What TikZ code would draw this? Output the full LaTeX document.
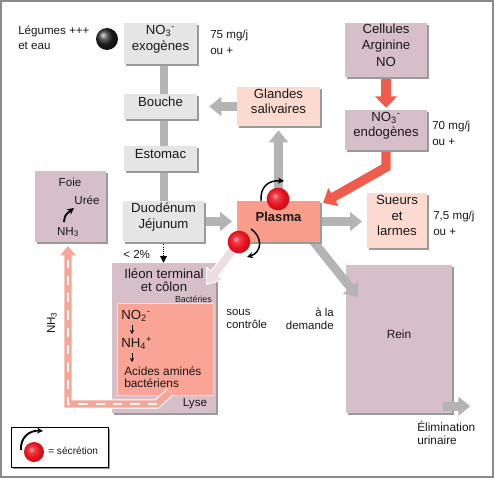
\documentclass[tikz,border=0pt]{standalone}
\usepackage{fontspec}
\setmainfont{Liberation Sans}
\usetikzlibrary{arrows.meta,fit,shadows,calc}
\definecolor{boxgrey}{HTML}{E5E5E5}
\definecolor{arrgrey}{HTML}{B4B4B4}
\definecolor{salmonbox}{HTML}{FDDACF}
\definecolor{mauvebox}{HTML}{D7BFCA}
\definecolor{plasmabox}{HTML}{F99C8C}
\definecolor{innerbox}{HTML}{F9A494}
\definecolor{redarrow}{HTML}{EF5B4C}
\definecolor{trackpink}{HTML}{F7A797}
\definecolor{palearrow}{HTML}{EDDCE1}
\definecolor{framegrey}{HTML}{8A8A8A}
\definecolor{shadowgrey}{HTML}{9A9A9A}
\definecolor{ballred}{HTML}{E8121C}
\pgfdeclareradialshading{redball}{\pgfqpoint{-7bp}{7bp}}{%
  color(0bp)=(ballred!35!white); color(7bp)=(ballred!80!white);
  color(18bp)=(ballred); color(30bp)=(ballred!80!black); color(50bp)=(ballred!65!black)}
\pgfdeclarelayer{bg}
\pgfdeclarelayer{mid}
\pgfsetlayers{bg,mid,main}
\newcommand\boxfnt{\fontsize{9.9}{12}\selectfont}
\newcommand\sidefnt{\fontsize{8.7}{11.8}\selectfont}
\newcommand\tinyfnt{\fontsize{6.6}{8}\selectfont}
\begin{document}
\begin{tikzpicture}[x=0.75pt,y=-0.75pt,
  mybox/.style={inner sep=0pt, align=center, font=\boxfnt, text=black!90,
     drop shadow={shadow xshift=1.5pt,shadow yshift=-1.5pt,opacity=1,fill=shadowgrey}},
  greystyle/.style={mybox,fill=boxgrey},
  salmonstyle/.style={mybox,fill=salmonbox},
  mauvestyle/.style={mybox,fill=mauvebox},
  sidelbl/.style={inner sep=0pt,font=\sidefnt,align=left,anchor=west,text=black!90},
  plainlbl/.style={inner sep=0pt,text=black!90},
  greyarr/.style={draw=arrgrey,line width=6.5pt,-{Triangle[width=14pt,length=9pt]}},
  redarr/.style={draw=redarrow,line width=7pt,line join=miter,-{Triangle[width=16pt,length=8.5pt]}},
  secr/.style={line width=1.1pt,-{Stealth[length=4.5pt,width=4.5pt]}},
  ballnode/.style={circle,inner sep=0pt,minimum size=17pt,shading=redball},
]
\useasboundingbox (0,0) rectangle (495,479);
\draw[framegrey,line width=0.9pt] (1,1) rectangle (493,477);

% ---------- background layer boxes
\begin{pgfonlayer}{bg}
\node[mauvestyle,fit={(346,265)(452,413)},font=\fontsize{8.9}{10}\selectfont] (rein) {Rein};
\node[mauvestyle,fit={(112,263)(216,413)}] (ileon) {};
\node[inner sep=0pt,fill=innerbox,draw=white!55!innerbox,line width=0.6pt,fit={(117,303)(213,395)}] (inner) {};
\end{pgfonlayer}

% ---------- main boxes
\node[greystyle,fit={(124,23)(197,64)}] (exo) {NO\textsubscript{3}\textsuperscript{-}\\exogènes};
\node[greystyle,fit={(124,94)(197,119)}] (bouche) {Bouche};
\node[greystyle,fit={(124,146)(197,171)}] (estomac) {Estomac};
\node[greystyle,fit={(123,201)(204,242)}] (duo) {Duodénum\\Jéjunum};
\node[salmonstyle,fit={(237,87)(320,126)},font=\fontsize{9.9}{11.3}\selectfont] (glandes) {Glandes\\salivaires};
\node[mauvestyle,fit={(345,23)(427,77)},font=\fontsize{9.9}{12.4}\selectfont] (cell) {Cellules\\Arginine\\NO};
\node[mauvestyle,fit={(345,110)(427,150)},font=\fontsize{9.9}{11.3}\selectfont] (endo) {NO\textsubscript{3}\textsuperscript{-}\\endogènes};
\node[mybox,fill=plasmabox,fit={(237,201)(320,242)},font=\bfseries\fontsize{9.8}{12}\selectfont] (plasma) {Plasma};
\node[salmonstyle,fit={(367,193)(427,248)},font=\fontsize{9.9}{11.6}\selectfont] (sueurs) {Sueurs\\et\\larmes};
\node[mauvestyle,fit={(35,171)(106,242)}] (foie) {};

% ---------- secretion balls
\node[ballnode] (ballT) at (278,199) {};
\node[ballnode] (ballL) at (239,242) {};
\coordinate (sTa) at (261,201); \coordinate (sTb) at (284,181);
\draw[secr] (sTa) .. controls (260,187) and (268,180) .. (sTb);
\coordinate (sLa) at (251,229); \coordinate (sLb) at (247,257);
\draw[secr] (sLa) .. controls (262,236) and (263,252) .. (sLb);

% ---------- side labels
\node[circle,inner sep=0pt,minimum size=16.5pt,ball color=black!85] (veg) at (107,39) {};
\node[sidelbl,font=\fontsize{8.7}{11.2}\selectfont] (legtxt) at (18,38) {Légumes +++\\et eau};
\node[sidelbl] (rateexo) at (210,42) {75 mg/j\\ou +};
\node[sidelbl] (rateendo) at (432,133) {70 mg/j\\ou +};
\node[sidelbl] (ratesueur) at (433,223) {7,5 mg/j\\ou +};
\node[sidelbl,font=\fontsize{8.6}{9.3}\selectfont] (sous) at (226,319) {sous\\contrôle};
\node[sidelbl,anchor=east,align=right,font=\fontsize{8.6}{9.3}\selectfont] (demande) at (334,319) {à la\\demande};
\node[sidelbl,font=\fontsize{8.9}{9.6}\selectfont] (elim) at (417,433) {Élimination\\urinaire};
\node[sidelbl] (pct) at (123,254) {< 2\%};

% ---------- ileon contents
\node[plainlbl,align=center,font=\fontsize{9.9}{9.6}\selectfont] (ileonlbl) at (164,280) {Iléon terminal\\et côlon};
\node[plainlbl,anchor=east,font=\tinyfnt] (bact) at (212,299) {Bactéries};
\node[plainlbl,anchor=west,font=\boxfnt] (no2) at (121,316) {NO\textsubscript{2}\textsuperscript{-}};
\node[plainlbl,anchor=west,font=\boxfnt] (nh4) at (121,343) {NH\textsubscript{4}\textsuperscript{+}};
\node[plainlbl,anchor=west,align=left,font=\fontsize{8.9}{8.8}\selectfont] (acides) at (124,377) {Acides aminés\\bactériens};
\node[plainlbl,font=\sidefnt] (lyse) at (195,404) {Lyse};
\coordinate (a1) at (132,325); \coordinate (a2) at (132,334);
\coordinate (b1) at (132,353); \coordinate (b2) at (132,362);
\draw[line width=0.7pt,-{Stealth[length=3pt,width=3pt]}] (a1) -- (a2);
\draw[line width=0.7pt,-{Stealth[length=3pt,width=3pt]}] (b1) -- (b2);

% ---------- foie contents
\node[plainlbl,font=\sidefnt] (foielbl) at (70,182) {Foie};
\node[plainlbl,font=\sidefnt] (uree) at (87,200) {Urée};
\node[plainlbl,font=\sidefnt] (nh3f) at (68,232) {NH\textsubscript{3}};
\coordinate (fa) at (64,222); \coordinate (fb) at (74,208);
\draw[line width=1.4pt,-{Stealth[length=5pt,width=5pt]}] (fa) .. controls (65,215) .. (fb);

% ---------- connectors (middle layer)
\coordinate (reinstart) at (297,221);
\coordinate (reintip) at (358,297);
\coordinate (plasmatip) at (323,203);
\coordinate (ileontip) at (206,285);
\coordinate (nhA) at (170,392);
\coordinate (nhB) at (157,404);
\coordinate (nhC) at (68,404);
\coordinate (nhtip) at (68,246);
\begin{pgfonlayer}{mid}
\draw[draw=arrgrey,line width=6pt] (duo.center) -- (duo.center |- exo.center);
\draw[greyarr,shorten >=9pt] (glandes.center) -- (glandes.center -| bouche.east);
\draw[greyarr,shorten >=3pt] (plasma.center) -- (plasma.center |- glandes.south);
\draw[greyarr,shorten >=3.5pt] (duo.center) -- (duo.center -| plasma.west);
\draw[greyarr,shorten >=3.5pt] (plasma.center) -- (plasma.center -| sueurs.west);
\draw[greyarr] (reinstart) -- (reintip);
\draw[greyarr] ($(rein.south east)+(-9,-7)$) -- ($(rein.south east)+(18,-7)$);
\draw[redarr,shorten >=1.5pt] (cell.center) -- (cell.center |- endo.north);
\draw[redarr,-{Triangle[width=15pt,length=9pt]}] (endo.center) -- ($(endo.south)+(0,17)$) -- (plasmatip);
% pale arrow plasma -> ileon
\draw[draw=white,line width=7.5pt,-{Triangle[width=16pt,length=11pt]}] (ballL.center) -- (ileontip);
\draw[draw=palearrow,line width=5.8pt,-{Triangle[width=13pt,length=9pt]},shorten >=1.3pt] (ballL.center) -- (ileontip);
% NH3 track
\draw[draw=white,line width=7pt,line join=miter] (nhA) -- (nhB) -- (nhC) -- ($(nhtip)+(0,8)$);
\draw[draw=trackpink,line width=5.3pt,line join=miter,-{Triangle[width=11pt,length=7pt]}] (nhA) -- (nhB) -- (nhC) -- (nhtip);
\draw[draw=white,line width=1.6pt,dash pattern=on 7pt off 6pt] (nhB) -- (nhC) -- ($(nhtip)+(0,14)$);
% dotted
\draw[line width=0.8pt,dash pattern=on 0.8pt off 0.8pt,-{Triangle[width=5pt,length=5pt]}] (duo.south) -- (duo.south |- ileon.north);
\end{pgfonlayer}

\node[plainlbl,font=\sidefnt,rotate=90] (nh3track) at (52,323) {NH\textsubscript{3}};

% ---------- legend
\node[draw=black,line width=0.6pt,fill=white,inner sep=0pt,fit={(11,427)(108,467)},
  drop shadow={shadow xshift=1.5pt,shadow yshift=-1.5pt,opacity=1,fill=shadowgrey}] (legend) {};
\node[ballnode,minimum size=15pt] (legball) at (34,452) {};
\coordinate (lga) at (21,450); \coordinate (lgb) at (43,431);
\draw[secr,line width=1.4pt] (lga) .. controls (20,437) and (30,430) .. (lgb);
\node[sidelbl,font=\fontsize{7.6}{9}\selectfont] (legsec) at (48,451) {= sécrétion};
\end{tikzpicture}
\end{document}
